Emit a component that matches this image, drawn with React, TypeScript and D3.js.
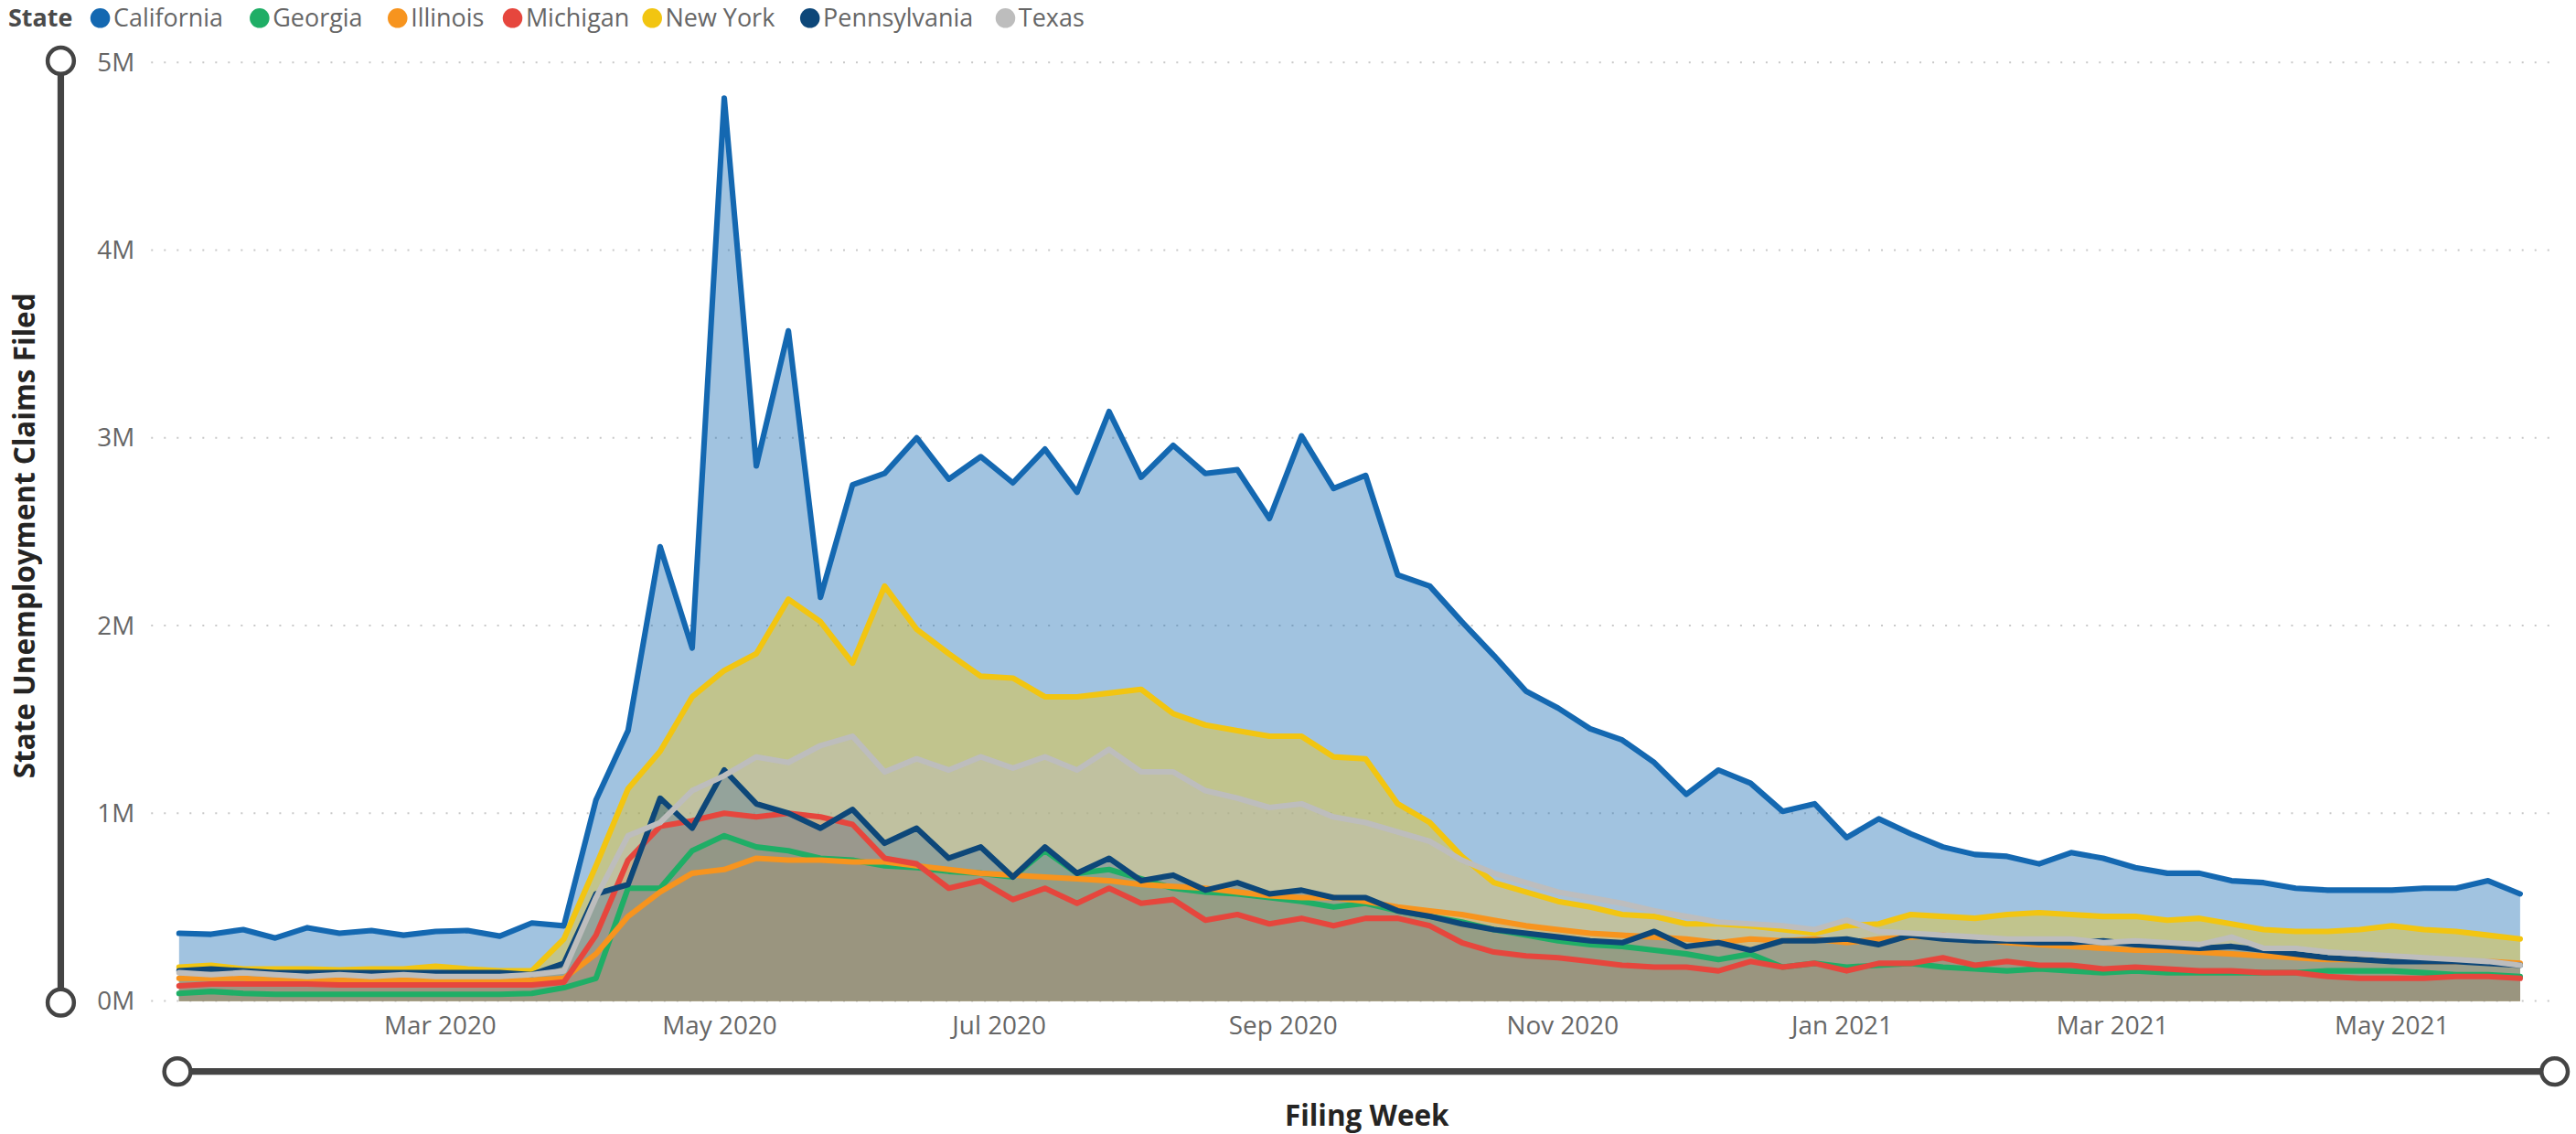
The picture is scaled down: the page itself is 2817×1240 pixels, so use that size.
import React from "react";
import * as d3 from "d3";

const FIRST_WEEK = new Date(2020, 0, 4);
const LAST_WEEK = new Date(2021, 4, 29);

const STATES = ["California", "Georgia", "Illinois", "Michigan", "New York", "Pennsylvania", "Texas"];
const COLORS = ["#1468B1", "#1FAE66", "#F7941E", "#E6463D", "#F2C511", "#0D4779", "#BDBDBD"];

const california = [
  0.36, 0.355, 0.38, 0.335, 0.39, 0.36, 0.375, 0.35, 0.37, 0.375, 0.345, 0.415, 0.40,
  1.07, 1.44, 2.42, 1.88, 4.81,
  2.85, 3.57, 2.15, 2.75, 2.81, 3.0, 2.78, 2.9, 2.76, 2.94, 2.71, 3.14, 2.79, 2.96, 2.81, 2.83, 2.57, 3.01, 2.73, 2.80,
  2.27, 2.21, 2.02, 1.84, 1.65, 1.56, 1.45, 1.39, 1.27, 1.10,
  1.23, 1.16, 1.01, 1.05, 0.87, 0.97, 0.89, 0.82, 0.78, 0.77,
  0.73, 0.79, 0.76, 0.71, 0.68, 0.68, 0.64, 0.63, 0.60, 0.59,
  0.59, 0.59, 0.60, 0.60, 0.64, 0.57,
];
const georgia = [
  0.04, 0.05, 0.04, 0.035, 0.035, 0.035, 0.035, 0.035, 0.035, 0.035, 0.035, 0.04, 0.07,
  0.12, 0.6, 0.6, 0.8, 0.88,
  0.82, 0.8, 0.76, 0.75, 0.72, 0.71, 0.69, 0.68, 0.66, 0.8, 0.68, 0.7, 0.65, 0.6, 0.58, 0.57, 0.55, 0.53, 0.5, 0.52,
  0.48, 0.45, 0.42, 0.38, 0.35, 0.32, 0.3, 0.29, 0.27, 0.25,
  0.22, 0.25, 0.18, 0.2, 0.18, 0.19, 0.2, 0.18, 0.17, 0.16,
  0.17, 0.16, 0.15, 0.16, 0.15, 0.15, 0.15, 0.15, 0.15, 0.16,
  0.16, 0.16, 0.15, 0.14, 0.14, 0.13,
];
const illinois = [
  0.12, 0.12, 0.12, 0.11, 0.11, 0.11, 0.11, 0.11, 0.11, 0.11, 0.11, 0.11, 0.12,
  0.25, 0.45, 0.58, 0.68, 0.7,
  0.76, 0.75, 0.75, 0.74, 0.74, 0.72, 0.70, 0.68, 0.67, 0.66, 0.65, 0.64, 0.62, 0.61, 0.60, 0.58, 0.56, 0.55, 0.55, 0.53,
  0.50, 0.48, 0.46, 0.43, 0.40, 0.38, 0.36, 0.35, 0.34, 0.33,
  0.31, 0.33, 0.32, 0.33, 0.31, 0.33, 0.34, 0.35, 0.33, 0.31,
  0.30, 0.29, 0.28, 0.27, 0.27, 0.26, 0.25, 0.24, 0.23, 0.22,
  0.22, 0.22, 0.21, 0.21, 0.21, 0.20,
];
const michigan = [
  0.08, 0.09, 0.09, 0.09, 0.09, 0.085, 0.085, 0.085, 0.085, 0.085, 0.085, 0.085, 0.1,
  0.35, 0.75, 0.93, 0.96, 1.0,
  0.98, 1.0, 0.98, 0.94, 0.76, 0.73, 0.6, 0.64, 0.54, 0.6, 0.52, 0.6, 0.52, 0.54, 0.43, 0.46, 0.41, 0.44, 0.4, 0.44,
  0.44, 0.40, 0.31, 0.26, 0.24, 0.23, 0.21, 0.19, 0.18, 0.18,
  0.16, 0.21, 0.18, 0.20, 0.16, 0.20, 0.20, 0.23, 0.19, 0.21,
  0.19, 0.19, 0.17, 0.18, 0.17, 0.16, 0.16, 0.15, 0.15, 0.13,
  0.12, 0.12, 0.12, 0.13, 0.13, 0.12,
];
const newYork = [
  0.18, 0.19, 0.17, 0.17, 0.17, 0.165, 0.17, 0.17, 0.185, 0.17, 0.16, 0.16, 0.33,
  0.72, 1.13, 1.33, 1.62, 1.76,
  1.85, 2.14, 2.02, 1.80, 2.21, 1.98, 1.85, 1.73, 1.72, 1.62, 1.62, 1.64, 1.66, 1.53, 1.47, 1.44, 1.41, 1.41, 1.30, 1.29,
  1.05, 0.95, 0.77, 0.63, 0.58, 0.53, 0.50, 0.46, 0.45, 0.41,
  0.41, 0.40, 0.38, 0.36, 0.40, 0.41, 0.46, 0.45, 0.44, 0.46,
  0.47, 0.46, 0.45, 0.45, 0.43, 0.44, 0.41, 0.38, 0.37, 0.37,
  0.38, 0.40, 0.38, 0.37, 0.35, 0.33,
];
const pennsylvania = [
  0.16, 0.17, 0.16, 0.15, 0.15, 0.15, 0.15, 0.15, 0.15, 0.15, 0.15, 0.14, 0.2,
  0.57, 0.62, 1.08, 0.92, 1.23,
  1.05, 1.0, 0.92, 1.02, 0.84, 0.92, 0.76, 0.82, 0.66, 0.82, 0.68, 0.76, 0.64, 0.67, 0.59, 0.63, 0.57, 0.59, 0.55, 0.55,
  0.48, 0.45, 0.41, 0.38, 0.36, 0.34, 0.32, 0.31, 0.37, 0.29,
  0.31, 0.27, 0.32, 0.32, 0.33, 0.30, 0.35, 0.33, 0.32, 0.32,
  0.31, 0.31, 0.32, 0.30, 0.29, 0.28, 0.29, 0.27, 0.25, 0.23,
  0.22, 0.21, 0.21, 0.21, 0.20, 0.19,
];
const texas = [
  0.15, 0.14, 0.15, 0.14, 0.13, 0.14, 0.13, 0.14, 0.13, 0.13, 0.13, 0.14, 0.16,
  0.55, 0.88, 0.95, 1.12, 1.2,
  1.3, 1.27, 1.36, 1.41, 1.22, 1.29, 1.23, 1.3, 1.24, 1.3, 1.23, 1.34, 1.22, 1.22, 1.12, 1.08, 1.03, 1.05, 0.98, 0.95,
  0.9, 0.85, 0.75, 0.68, 0.63, 0.58, 0.55, 0.52, 0.48, 0.45,
  0.42, 0.41, 0.40, 0.38, 0.43, 0.37, 0.36, 0.35, 0.34, 0.33,
  0.33, 0.33, 0.31, 0.32, 0.31, 0.30, 0.34, 0.28, 0.28, 0.26,
  0.25, 0.24, 0.23, 0.22, 0.21, 0.19,
];
const SERIES = [california, georgia, illinois, michigan, newYork, pennsylvania, texas];

const Y_TICKS = [0, 1, 2, 3, 4, 5];
const X_TICK_LABELS = ["Mar 2020", "May 2020", "Jul 2020", "Sep 2020", "Nov 2020", "Jan 2021", "Mar 2021", "May 2021"];

const LEGEND_X = [61, 158, 242, 312, 397, 493, 612];

const W = 1568;
const H = 690;
const FONT = "'Open Sans', 'Segoe UI', sans-serif";

export default function App() {
  const weeks = d3.timeSaturday.range(FIRST_WEEK, d3.timeDay.offset(LAST_WEEK, 1));
  const x = d3.scaleTime().domain([FIRST_WEEK, LAST_WEEK]).range([109, 1534]);
  const y = d3.scaleLinear().domain([0, 5]).range([609, 38]);
  const xTicks = d3.timeMonth.every(2)!.range(new Date(2020, 2, 1), new Date(2021, 5, 1));
  const fmt = d3.timeFormat("%b %Y");

  const area = d3
    .area<number>()
    .x((_, i) => x(weeks[i]))
    .y0(y(0))
    .y1((d) => y(d));
  const line = d3
    .line<number>()
    .x((_, i) => x(weeks[i]))
    .y((d) => y(d));

  const legendY = 11;
  const labelY = 624;
  const sliderY = 652;
  const titleY = 679;

  return (
    <svg
      width={2817}
      height={1240}
      viewBox={`0 0 ${W} ${H}`}
      preserveAspectRatio="none"
      style={{ position: "absolute", left: 0, top: 0, background: "#fff" }}
      fontFamily={FONT}
    >
      {/* legend */}
      <g>
        <text x={5} y={legendY} dy="0.35em" fontSize={15} fontWeight={700} fill="#4a4a4a">
          State
        </text>
        {STATES.map((s, i) => (
          <g key={s}>
            <circle cx={LEGEND_X[i]} cy={legendY} r={6} fill={COLORS[i]} />
            <text x={LEGEND_X[i] + 8} y={legendY} dy="0.35em" fontSize={15} fill="#666">
              {s}
            </text>
          </g>
        ))}
      </g>

      {/* gridlines */}
      {Y_TICKS.map((t) => (
        <line
          key={t}
          x1={92}
          x2={1555}
          y1={y(t)}
          y2={y(t)}
          stroke="#c8c8c8"
          strokeWidth={1.1}
          strokeDasharray="1.1 6.7"
        />
      ))}

      {/* areas */}
      {SERIES.map((s, i) => (
        <path key={"a" + i} d={area(s) || ""} fill={COLORS[i]} fillOpacity={0.4} />
      ))}
      {/* lines */}
      {SERIES.map((s, i) => (
        <path
          key={"l" + i}
          d={line(s) || ""}
          fill="none"
          stroke={COLORS[i]}
          strokeWidth={3.4}
          strokeLinejoin="round"
          strokeLinecap="round"
        />
      ))}

      {/* y tick labels */}
      {Y_TICKS.map((t) => (
        <text key={t} x={82} y={y(t)} dy="0.35em" textAnchor="end" fontSize={15.5} fill="#666">
          {t + "M"}
        </text>
      ))}

      {/* x tick labels */}
      {xTicks.map((d, i) => (
        <text key={i} x={x(d)} y={labelY} dy="0.35em" textAnchor="middle" fontSize={15.5} fill="#666">
          {X_TICK_LABELS[i] || fmt(d)}
        </text>
      ))}

      {/* y slider */}
      <line x1={37} x2={37} y1={37} y2={610} stroke="#444" strokeWidth={4} />
      <circle cx={37} cy={37} r={8} fill="#fff" stroke="#444" strokeWidth={2.5} />
      <circle cx={37} cy={610} r={8} fill="#fff" stroke="#444" strokeWidth={2.5} />

      {/* x slider */}
      <line x1={108} x2={1555} y1={sliderY} y2={sliderY} stroke="#444" strokeWidth={4} />
      <circle cx={108} cy={sliderY} r={8} fill="#fff" stroke="#444" strokeWidth={2.5} />
      <circle cx={1555} cy={sliderY} r={8} fill="#fff" stroke="#444" strokeWidth={2.5} />

      {/* axis titles */}
      <text
        transform={`translate(15,326) rotate(-90)`}
        textAnchor="middle"
        dy="0.35em"
        fontSize={17.5}
        fontWeight={700}
        fill="#252423"
      >
        State Unemployment Claims Filed
      </text>
      <text x={832} y={titleY} dy="0.35em" textAnchor="middle" fontSize={17.5} fontWeight={700} fill="#252423">
        Filing Week
      </text>
    </svg>
  );
}
